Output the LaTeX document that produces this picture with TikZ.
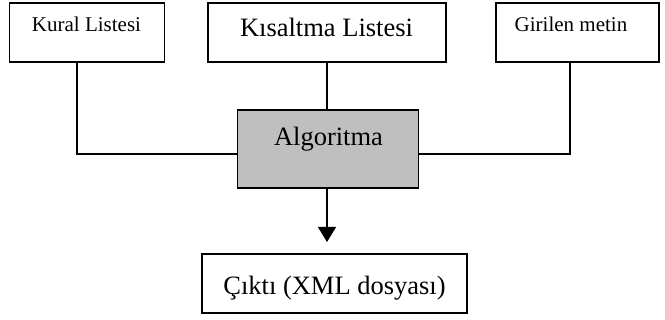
\documentclass[tikz,border=0pt]{standalone}
\usepackage{fontspec}
\setmainfont{Liberation Serif}
\usetikzlibrary{arrows.meta}
\begin{document}
\begin{tikzpicture}[x=1pt,y=-1pt,
  box/.style={draw=black, line width=1.2pt, fill=white, inner sep=0pt, outer sep=0pt},
  grey/.style={box, fill=black!25},
  small/.style={anchor=base, inner sep=0pt, font=\fontsize{21}{25}\selectfont},
  big/.style={anchor=base, inner sep=0pt, font=\fontsize{26.5}{31}\selectfont},
  conn/.style={line width=1.2pt, draw=black}]
\useasboundingbox (0,0) rectangle (665,320);
% boxes
\node[box, minimum width=154.5pt, minimum height=59pt] (kural) at (87,32.5) {};
\node[box, minimum width=238pt, minimum height=59pt] (kisa) at (327,32.5) {};
\node[box, minimum width=163pt, minimum height=59pt] (giri) at (577.5,32.5) {};
\node[grey, minimum width=181.5pt, minimum height=78pt] (algo) at (328,149) {};
\node[box, minimum width=265pt, minimum height=59pt] (cikti) at (334.5,283.5) {};
% texts
\node[small] (tkural) at (86.5,32) {Kural Listesi};
\node[big] (tkisa) at (326.5,37) {Kısaltma Listesi};
\node[small] (tgiri) at (571,32) {Girilen metin};
\node[big] (talgo) at (328.5,146) {Algoritma};
\node[big] (tcikti) at (334.5,295) {Çıktı (XML dosyası)};
% connectors
\coordinate (k1) at (77,62);
\coordinate (g1) at (570,62);
\coordinate (m1) at (327,62);
\coordinate (a1) at (327,188);
\coordinate (arrtip) at (327,242);
\draw[conn] (k1) |- ([yshift=-5pt]algo.west);
\draw[conn] (g1) |- ([yshift=-5pt]algo.east);
\draw[conn] (m1) -- (m1 |- algo.north);
\draw[conn, -{Triangle[width=18pt,length=15pt]}] (a1 |- algo.south) -- (arrtip);
\end{tikzpicture}
\end{document}
